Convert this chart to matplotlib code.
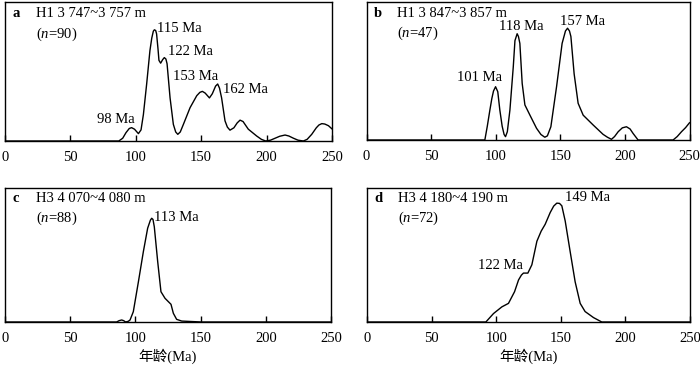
import matplotlib
matplotlib.use("Agg")
import matplotlib.pyplot as plt

plt.rcParams['font.family'] = ['Liberation Serif', 'Noto Sans CJK SC']
plt.rcParams['mathtext.fontset'] = 'custom'
plt.rcParams['mathtext.rm'] = 'Liberation Serif'
plt.rcParams['mathtext.it'] = 'Liberation Serif:italic'

# Age (Ma) and relative probability (fraction of panel height)
age_a = [0, 87, 90, 92.5, 95, 96.8, 99, 102, 104, 105.8, 108.3, 110.8, 112.2, 113.4, 114.2, 115.2,
         115.9, 117, 117.7, 119, 120.5, 121.8, 123, 123.9, 126.2, 128.7, 130.5, 132.1, 134, 136.4,
         141.5, 146.6, 149, 150.9, 153, 156.3, 158.5, 161, 162.6, 164, 165.6, 168.2, 170, 172,
         175, 177.5, 179.7, 182, 186, 192.4, 196, 199.3, 203, 206.5, 210, 214.1, 217, 220.5,
         224, 228.1, 231, 234.5, 238, 240, 242.2, 244.5, 247.3, 250]
dens_a = [0, 0, 0.02, 0.06, 0.09, 0.096, 0.085, 0.053, 0.08, 0.19, 0.41, 0.65, 0.74, 0.79, 0.80,
          0.795, 0.77, 0.66, 0.58, 0.56, 0.585, 0.60, 0.59, 0.556, 0.31, 0.12, 0.065, 0.048,
          0.065, 0.12, 0.24, 0.326, 0.35, 0.357, 0.345, 0.31, 0.34, 0.395, 0.41, 0.38, 0.31,
          0.145, 0.1, 0.078, 0.095, 0.13, 0.15, 0.14, 0.085, 0.036, 0.012, 0.0, 0.006, 0.02,
          0.034, 0.043, 0.036, 0.02, 0.006, 0.0, 0.012, 0.048, 0.095, 0.115, 0.125, 0.122,
          0.11, 0.087]

age_b = [0, 91.6, 93.5, 95.5, 97, 98.3, 99.9, 101.6, 103.2, 105, 106.5, 107.6, 109, 111, 113.6,
         114.9, 116.6, 117.6, 118.7, 120.5, 122.6, 126.5, 131.6, 135, 138, 140, 142.7, 147.1,
         151.4, 154, 155.6, 157.1, 158.2, 160.7, 163.8, 167.7, 175.4, 183.1, 186.5, 189.6,
         192, 194.8, 198, 201.2, 204, 206.3, 210.2, 237.3, 240.5, 243.8, 247, 250]
dens_b = [0, 0, 0.1, 0.217, 0.3, 0.355, 0.386, 0.35, 0.217, 0.1, 0.04, 0.024, 0.06, 0.217,
          0.53, 0.72, 0.77, 0.75, 0.70, 0.41, 0.254, 0.18, 0.085, 0.04, 0.02, 0.03, 0.096,
          0.386, 0.70, 0.79, 0.81, 0.79, 0.75, 0.48, 0.266, 0.18, 0.109, 0.041, 0.02, 0.005,
          0.025, 0.06, 0.088, 0.096, 0.08, 0.048, 0.0, 0.0, 0.025, 0.06, 0.09, 0.125]

age_c = [0, 85.6, 87.5, 89.5, 91, 92.5, 94.5, 95.9, 98.4, 102.3, 106.1, 109.4, 111.5, 112.5,
         113.5, 114.5, 117.1, 119.6, 122.7, 127.3, 129.1, 131.6, 135.5, 150.8, 250]
dens_c = [0, 0, 0.01, 0.015, 0.01, 0, 0.005, 0.015, 0.077, 0.30, 0.525, 0.70, 0.76, 0.774,
          0.765, 0.71, 0.45, 0.226, 0.177, 0.132, 0.065, 0.02, 0.007, 0, 0]

age_d = [0, 92, 97.9, 104.4, 109.5, 114.2, 117.3, 119.5, 121.1, 124.5, 127.6, 131.5, 134.8, 137.9,
         141.8, 144.5, 146.9, 149, 150.8, 153.4, 157.2, 161.1, 165, 168.8, 175.3, 181.7, 250]
dens_d = [0, 0, 0.063, 0.113, 0.139, 0.226, 0.314, 0.35, 0.365, 0.365, 0.427, 0.603, 0.678,
          0.729, 0.817, 0.865, 0.887, 0.885, 0.867, 0.754, 0.528, 0.30, 0.139, 0.078, 0.033, 0, 0]

panel_letters = ['a', 'b', 'c', 'd']
titles = ['H1 3 747~3 757 m', 'H1 3 847~3 857 m', 'H3 4 070~4 080 m', 'H3 4 180~4 190 m']
counts = [90, 47, 88, 72]
peak_labels = [
    [('115 Ma', 116.2, 0.81), ('122 Ma', 124.6, 0.645), ('153 Ma', 128.4, 0.464),
     ('162 Ma', 166.7, 0.37), ('98 Ma', 70.3, 0.152)],
    [('118 Ma', 102.5, 0.82), ('157 Ma', 149.7, 0.862), ('101 Ma', 69.8, 0.45)],
    [('113 Ma', 114.3, 0.78)],
    [('149 Ma', 153.4, 0.93), ('122 Ma', 86.1, 0.42)],
]
xticks = [0, 50, 100, 150, 200, 250]

W, H = 700, 366
fig = plt.figure(figsize=(W / 100, H / 100), dpi=100)

# panel boxes in pixels: left, right, top, bottom
boxes = [(5, 332, 2, 141), (366.5, 689.5, 2, 140), (5, 331, 188, 322), (367, 690, 188, 322)]
curves = [(age_a, dens_a), (age_b, dens_b), (age_c, dens_c), (age_d, dens_d)]

fs = 10.5
for i, (l, r, t, b) in enumerate(boxes):
    ax = fig.add_axes([l / W, (H - b) / H, (r - l) / W, (b - t) / H])
    x, y = curves[i]
    ax.plot(x, y, color='black', lw=1.0, solid_joinstyle='round')
    ax.set_xlim(0, 250)
    ax.set_ylim(0, 1)
    ax.set_yticks([])
    ax.set_xticks(xticks)
    ax.tick_params(axis='x', direction='in', length=4, width=1, pad=7, labelsize=fs)
    for s in ax.spines.values():
        s.set_linewidth(1.0)

    ax.text(0.022, 0.92, panel_letters[i], transform=ax.transAxes, fontsize=fs,
            fontweight='bold', va='center')
    ax.text(0.095, 0.92, titles[i], transform=ax.transAxes, fontsize=fs, va='center')
    ax.text(0.095, 0.77, '($n$=%d)' % counts[i], transform=ax.transAxes, fontsize=fs,
            va='center')
    for txt, px, py in peak_labels[i]:
        ax.text(px, py, txt, fontsize=fs, va='center')
    if i >= 2:
        ax.set_xlabel('年龄(Ma)', fontsize=fs, labelpad=3)

fig.savefig('out.png', dpi=100)
